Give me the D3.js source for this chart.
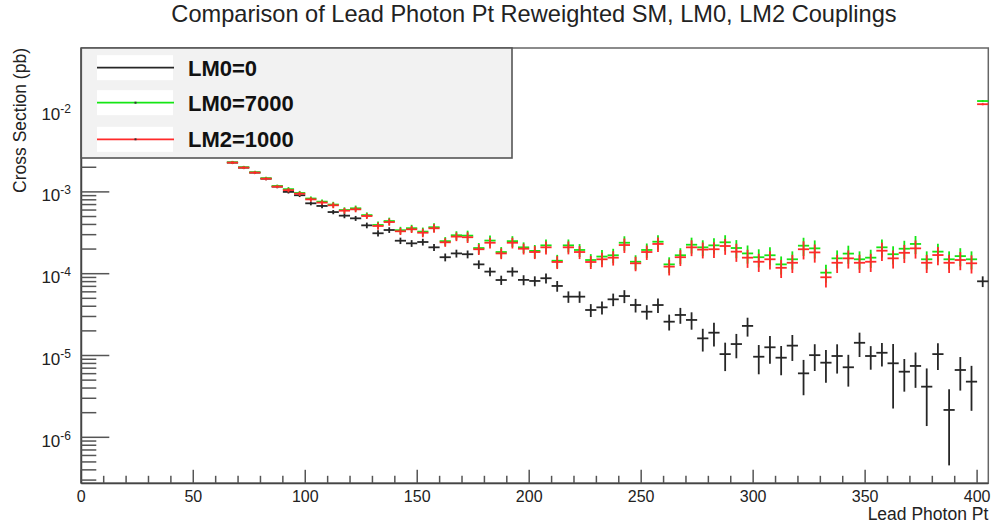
<!DOCTYPE html>
<html>
<head>
<meta charset="utf-8">
<script src="https://cdn.jsdelivr.net/npm/d3@7"></script>
<style>
  html, body { margin: 0; padding: 0; background: #fff; }
  svg text { font-family: "Liberation Sans", Arial, Helvetica, sans-serif; }
</style>
</head>
<body>
<svg id="chart" width="993" height="525"></svg>
<script>
// ---------------- DATA ----------------
const chartTitle = "Comparison of Lead Photon Pt Reweighted SM, LM0, LM2 Couplings";
const xTitle = "Lead Photon Pt";
const yTitle = "Cross Section (pb)";
const seriesNames = ["LM0=0", "LM0=7000", "LM2=1000"];

const binCenters = [67.5,72.5,77.5,82.5,87.5,92.5,97.5,102.5,107.5,112.5,
  117.5,122.5,127.5,132.5,137.5,142.5,147.5,152.5,157.5,162.5,
  167.5,172.5,177.5,182.5,187.5,192.5,197.5,202.5,207.5,212.5,
  217.5,222.5,227.5,232.5,237.5,242.5,247.5,252.5,257.5,262.5,
  267.5,272.5,277.5,282.5,287.5,292.5,297.5,302.5,307.5,312.5,
  317.5,322.5,327.5,332.5,337.5,342.5,347.5,352.5,357.5,362.5,
  367.5,372.5,377.5,382.5,387.5,392.5,397.5,402.5];
const binWidth = 5;

const lm0_0 = [2.28e-3,1.98e-3,1.72e-3,1.45e-3,1.16e-3,1.0e-3,9.1e-4,7.25e-4,6.73e-4,5.67e-4,
  5.12e-4,4.75e-4,3.9e-4,3.12e-4,3.42e-4,2.53e-4,2.35e-4,2.44e-4,2.1e-4,1.59e-4,
  1.77e-4,1.73e-4,1.30e-4,1.06e-4,8.37e-5,1.06e-4,8.4e-5,8.15e-5,8.8e-5,7.08e-5,
  5.24e-5,5.24e-5,3.6e-5,3.88e-5,4.86e-5,5.33e-5,4.14e-5,3.43e-5,4.14e-5,2.59e-5,
  3.13e-5,2.72e-5,1.62e-5,1.9e-5,1.04e-5,1.38e-5,2.3e-5,9.66e-6,1.26e-5,9.4e-6,
  1.32e-5,6.05e-6,1.01e-5,8.17e-6,9.86e-6,7.18e-6,1.43e-5,9.86e-6,1.08e-5,8.03e-6,
  6.34e-6,7.45e-6,4.16e-6,1.04e-5,2.16e-6,6.65e-6,4.79e-6,8.07e-5];

const lm0_7000 = [2.3e-3,2.0e-3,1.74e-3,1.47e-3,1.18e-3,1.08e-3,9.7e-4,8.3e-4,7.6e-4,7.0e-4,
  6.0e-4,6.3e-4,5.2e-4,3.94e-4,4.4e-4,3.4e-4,3.6e-4,3.27e-4,3.7e-4,2.5e-4,
  2.95e-4,2.92e-4,2.06e-4,2.54e-4,1.84e-4,2.5e-4,2.1e-4,1.9e-4,2.22e-4,1.44e-4,
  2.22e-4,1.95e-4,1.47e-4,1.62e-4,1.68e-4,2.39e-4,1.4e-4,1.95e-4,2.46e-4,1.3e-4,
  1.68e-4,2.26e-4,2.1e-4,2.22e-4,2.42e-4,2.06e-4,1.77e-4,1.59e-4,1.68e-4,1.3e-4,
  1.5e-4,2.2e-4,2.04e-4,1.03e-4,1.54e-4,1.76e-4,1.5e-4,1.57e-4,2.1e-4,1.73e-4,
  2.02e-4,2.31e-4,1.5e-4,1.86e-4,1.5e-4,1.64e-4,1.5e-4,1.29e-2];

const lm2_1000 = [2.28e-3,1.98e-3,1.72e-3,1.45e-3,1.16e-3,1.05e-3,9.5e-4,8.1e-4,7.4e-4,6.86e-4,
  5.89e-4,6.12e-4,5.07e-4,3.83e-4,4.28e-4,3.3e-4,3.49e-4,3.17e-4,3.59e-4,2.42e-4,
  2.84e-4,2.79e-4,1.99e-4,2.39e-4,1.77e-4,2.39e-4,2.02e-4,1.84e-4,2.1e-4,1.39e-4,
  2.1e-4,1.84e-4,1.39e-4,1.5e-4,1.57e-4,2.24e-4,1.34e-4,1.84e-4,2.31e-4,1.22e-4,
  1.59e-4,2.1e-4,1.97e-4,1.99e-4,2.18e-4,1.86e-4,1.57e-4,1.4e-4,1.5e-4,1.18e-4,
  1.36e-4,1.99e-4,1.82e-4,9.04e-5,1.36e-4,1.54e-4,1.36e-4,1.4e-4,1.91e-4,1.54e-4,
  1.8e-4,2.04e-4,1.36e-4,1.69e-4,1.36e-4,1.47e-4,1.34e-4,1.18e-2];

// relative (fractional) error bars
const lm0_0RelErr = [0.04,0.04,0.04,0.04,0.045,0.045,0.05,0.055,0.06,0.06,
  0.07,0.07,0.08,0.085,0.08,0.09,0.095,0.095,0.1,0.11,
  0.11,0.11,0.12,0.12,0.13,0.13,0.14,0.14,0.14,0.15,
  0.16,0.16,0.18,0.18,0.175,0.18,0.19,0.2,0.2,0.22,
  0.22,0.24,0.31,0.32,0.38,0.33,0.26,0.39,0.37,0.39,
  0.35,0.46,0.36,0.43,0.39,0.42,0.33,0.32,0.32,0.72,
  0.43,0.46,0.67,0.36,0.79,0.44,0.56,0.15];
const couplingRelErr = [0.04,0.04,0.04,0.04,0.04,0.06,0.06,0.06,0.06,0.08,
  0.08,0.08,0.08,0.1,0.1,0.1,0.1,0.12,0.12,0.12,
  0.12,0.15,0.15,0.15,0.15,0.15,0.15,0.18,0.18,0.18,
  0.18,0.18,0.18,0.2,0.2,0.2,0.2,0.2,0.2,0.22,
  0.22,0.22,0.22,0.22,0.22,0.25,0.25,0.25,0.25,0.25,
  0.25,0.25,0.25,0.25,0.25,0.25,0.25,0.25,0.25,0.25,
  0.25,0.25,0.25,0.25,0.25,0.25,0.25,0.03];

const xTicksMajor = [0,50,100,150,200,250,300,350,400];
const yDecades = [-6,-5,-4,-3,-2];

// ---------------- LAYOUT ----------------
const svg = d3.select("#chart");
const L = 81.3, R = 988.3, T = 48, B = 483.3;
const x = d3.scaleLinear().domain([0, 405]).range([L, R]);
const y = d3.scaleLog().domain([2.74e-7, 0.0574]).range([B, T]);

const series = [
  {name: seriesNames[0], vals: lm0_0, err: lm0_0RelErr, color: "#262626"},
  {name: seriesNames[1], vals: lm0_7000, err: couplingRelErr, color: "#14e614"},
  {name: seriesNames[2], vals: lm2_1000, err: couplingRelErr, color: "#ff2a2a"}
];

// frame
svg.append("rect").attr("x", L).attr("y", T).attr("width", R - L).attr("height", B - T)
  .attr("fill", "none").attr("stroke", "#666").attr("stroke-width", 1.5);

// data
const gData = svg.append("g");
series.forEach(s => {
  const g = gData.append("g").attr("stroke", s.color).attr("stroke-width", 1.8).attr("fill", "none");
  s.vals.forEach((v, i) => {
    const c = binCenters[i];
    const e = v * s.err[i];
    const lo = Math.max(v - e, y.domain()[0]);
    const hi = Math.min(v + e, y.domain()[1]);
    g.append("line").attr("x1", x(c - binWidth / 2)).attr("x2", x(c + binWidth / 2))
      .attr("y1", y(v)).attr("y2", y(v));
    g.append("line").attr("x1", x(c)).attr("x2", x(c))
      .attr("y1", y(hi)).attr("y2", y(lo));
  });
});

// axes
const axisColor = "#444";
// x axis
const gx = svg.append("g");
gx.append("line").attr("x1", L).attr("x2", R).attr("y1", B).attr("y2", B)
  .attr("stroke", axisColor).attr("stroke-width", 1.8);
const xMinor = d3.range(0, 401, 10);
xMinor.forEach(t => {
  const major = xTicksMajor.includes(t);
  gx.append("line").attr("x1", x(t)).attr("x2", x(t)).attr("y1", B).attr("y2", B - (major ? 13.5 : 7.5))
    .attr("stroke", "#555").attr("stroke-width", 1.5);
});
xTicksMajor.forEach(t => {
  gx.append("text").attr("x", x(t)).attr("y", 501.5).attr("text-anchor", "middle")
    .attr("font-size", 16).attr("fill", "#222").text(t);
});
gx.append("text").attr("x", R).attr("y", 519.5).attr("text-anchor", "end")
  .attr("font-size", 17.5).attr("fill", "#222").text(xTitle);

// y axis
const gy = svg.append("g");
gy.append("line").attr("x1", L).attr("x2", L).attr("y1", T).attr("y2", B)
  .attr("stroke", axisColor).attr("stroke-width", 1.8);
for (let d = -7; d <= -2; d++) {
  for (let m = 1; m <= 9; m++) {
    const v = m * Math.pow(10, d);
    if (v < y.domain()[0] || v > y.domain()[1]) continue;
    gy.append("line").attr("x1", L).attr("x2", L + (m === 1 ? 28 : 15))
      .attr("y1", y(v)).attr("y2", y(v)).attr("stroke", "#555").attr("stroke-width", 1.5);
  }
}
yDecades.forEach(d => {
  const t = gy.append("text").attr("x", 71).attr("y", y(Math.pow(10, d)) + 9.5)
    .attr("text-anchor", "end").attr("fill", "#222");
  t.append("tspan").attr("font-size", 17).text("10");
  t.append("tspan").attr("font-size", 12).attr("dy", -7).text(String(d));
});
svg.append("text").attr("transform", `translate(26,${T}) rotate(-90)`)
  .attr("text-anchor", "end").attr("font-size", 17.5).attr("fill", "#222").text(yTitle);

// legend
const lg = svg.append("g");
lg.append("rect").attr("x", L).attr("y", T).attr("width", 512 - L).attr("height", 158 - T)
  .attr("fill", "#f2f2f2").attr("stroke", "#555").attr("stroke-width", 1.6);
const rowY = [67.7, 102.7, 139.3];
series.forEach((s, i) => {
  lg.append("rect").attr("x", 97).attr("y", rowY[i] - 12.5).attr("width", 76).attr("height", 25)
    .attr("fill", "#fff");
  lg.append("line").attr("x1", 97).attr("x2", 174).attr("y1", rowY[i]).attr("y2", rowY[i])
    .attr("stroke", s.color).attr("stroke-width", 1.7);
  if (i > 0) {
    lg.append("rect").attr("x", 134.5).attr("y", rowY[i] - 1).attr("width", 2).attr("height", 2)
      .attr("fill", "#333");
  }
  lg.append("text").attr("x", 188).attr("y", rowY[i] + 8).attr("font-size", 22)
    .attr("font-weight", "bold").attr("fill", "#111").text(s.name);
});

// title
svg.append("text").attr("x", 534).attr("y", 22).attr("text-anchor", "middle")
  .attr("font-size", 23.6).attr("fill", "#222").text(chartTitle);
</script>
</body>
</html>
